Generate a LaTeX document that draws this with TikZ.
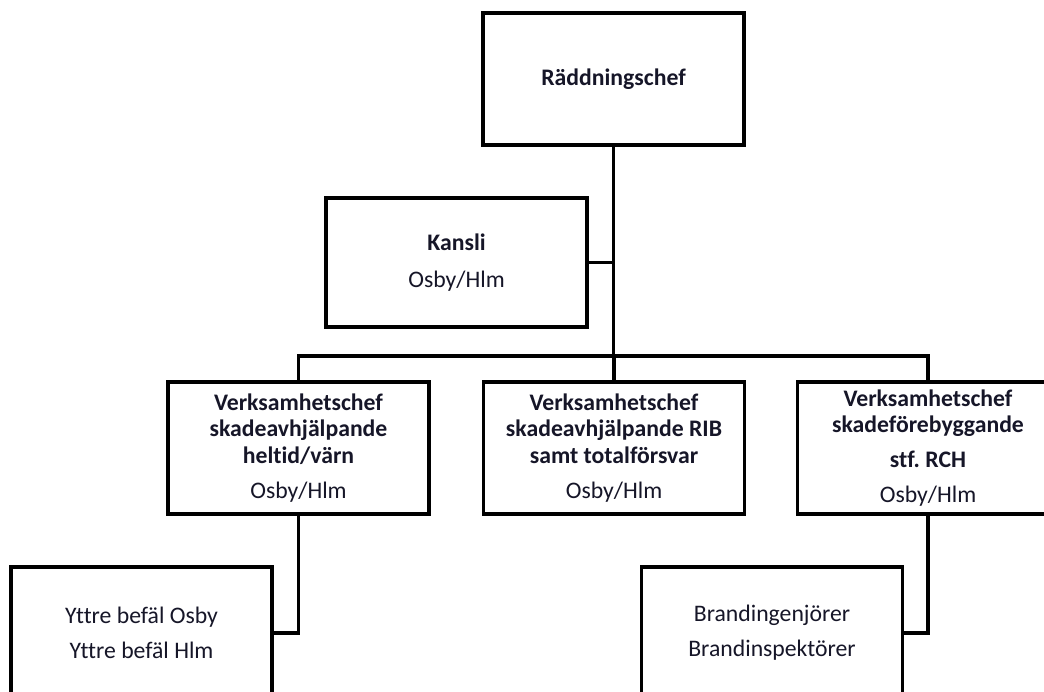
\documentclass[tikz,border=0pt]{standalone}
\usepackage{fontspec}
\setmainfont[Ligatures=NoCommon]{Carlito}
\usepackage{tikz}
\frenchspacing

\definecolor{txtnavy}{RGB}{22,22,40}

\tikzset{
  orgbox/.style={draw, line width=2.2pt, fill=white, text=txtnavy, align=center,
    minimum width=5.22cm, minimum height=2.64cm, inner sep=0pt,
    font=\fontsize{13.5}{15}\selectfont},
  orgline/.style={line width=2.2pt},
}

\begin{document}
\begin{tikzpicture}[x=0.02cm,y=-0.02cm]
  \useasboundingbox (0,0) rectangle (1044,691);
  \clip (0,0) rectangle (1044,691);

  % top
  \node[orgbox] (chef) at (613.5,79) {\textbf{Räddningschef}};
  \node[orgbox, minimum height=2.58cm] (kansli) at (456.5,262.5) {\textbf{Kansli}\\[6pt]Osby/Hlm};

  % verksamheter
  \node[orgbox] (vcheltid) at (298.5,448) {\textbf{Verksamhetschef}\\\textbf{skadeavhjälpande}\\\textbf{heltid/värn}\\[5pt]Osby/Hlm};
  \node[orgbox] (vcrib) at (614,448) {\textbf{Verksamhetschef}\\\textbf{skadeavhjälpande RIB}\\\textbf{samt totalförsvar}\\[5pt]Osby/Hlm};
  \node[orgbox] (vcforeb) at (928,448) {\textbf{Verksamhetschef}\\\textbf{skadeförebyggande}\\[5pt]\textbf{stf. RCH}\\[5pt]Osby/Hlm};

  % bottom
  \node[orgbox] (yttre) at (141.5,633) {Yttre befäl Osby\\[5pt]Yttre befäl Hlm};
  \node[orgbox] (brand) at (772,633) {Brandingenjörer\\[5pt]Brandinspektörer};

  \coordinate (bus) at (613.5,356);
  \draw[orgline] (chef.south) -- (bus);
  \draw[orgline] (kansli.east) -- (kansli.east -| bus);
  \draw[orgline] (vcheltid.north) |- (bus);
  \draw[orgline] (vcforeb.north) |- (bus);
  \draw[orgline] (vcrib.north) -- (vcrib.north |- bus);
  \draw[orgline] (vcheltid.south) |- (yttre.east);
  \draw[orgline] (vcforeb.south) |- (brand.east);
\end{tikzpicture}
\end{document}
